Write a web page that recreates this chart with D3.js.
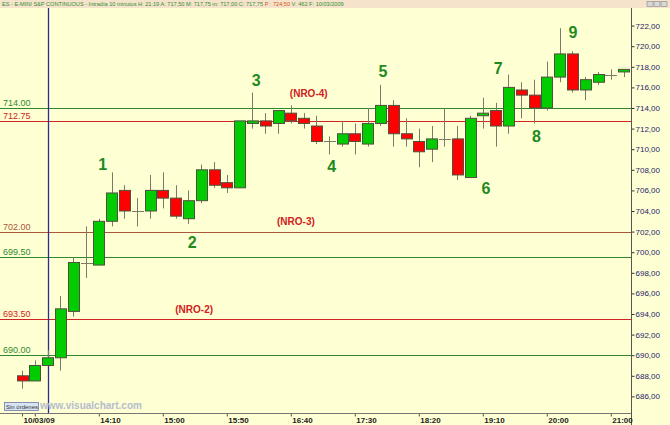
<!DOCTYPE html>
<html>
<head>
<meta charset="utf-8">
<script src="https://cdn.jsdelivr.net/npm/d3@7"></script>
<style>
  body { margin: 0; background: #ffffd6; }
  svg { display: block; font-family: Arial, "Liberation Sans", sans-serif; }
</style>
</head>
<body>
<div id="chart"></div>
<script>
// Chart data (ES e-mini S&P, 10 minute bars, 10/03/2009)
// ================================
var opens  = [688.00, 687.50, 689.00, 689.75, 694.25, 699.00, 698.75, 703.00, 706.00, 704.00,
              704.00, 706.00, 705.25, 703.25, 705.00, 708.00, 706.75, 706.25, 712.50, 712.75,
              712.50, 713.50, 713.00, 712.25, 710.75, 710.50, 711.50, 710.50, 712.50, 714.25,
              711.50, 710.75, 710.00, 711.00, 711.00, 707.25, 713.25, 713.75, 712.25, 715.75,
              715.25, 714.00, 717.00, 719.25, 715.75, 716.50, 717.25, 717.50];
var highs  = [688.50, 689.50, 690.50, 695.75, 699.50, 702.50, 703.25, 707.75, 706.50, 705.25,
              707.50, 707.75, 706.50, 706.00, 708.50, 708.75, 707.50, 712.75, 715.50, 713.50,
              713.75, 714.25, 713.50, 713.25, 711.25, 712.75, 712.50, 714.00, 716.25, 714.75,
              713.00, 712.00, 712.25, 714.00, 712.25, 713.25, 715.00, 714.50, 717.25, 716.50,
              716.75, 718.50, 721.75, 719.50, 717.00, 717.50, 717.75, 717.75];
var lows   = [686.75, 687.50, 689.00, 688.50, 693.75, 697.50, 698.75, 702.50, 703.25, 702.50,
              703.25, 704.25, 703.25, 702.75, 704.75, 706.25, 705.75, 706.25, 712.00, 711.50,
              711.50, 712.50, 712.00, 710.50, 709.50, 710.25, 709.50, 710.25, 712.25, 710.25,
              710.25, 708.25, 708.75, 710.25, 707.00, 707.25, 712.00, 710.25, 711.50, 713.00,
              712.50, 713.75, 716.50, 715.50, 714.75, 716.25, 716.75, 717.00];
var closes = [687.50, 689.00, 689.75, 694.50, 699.00, 699.00, 703.00, 705.75, 704.00, 704.00,
              706.00, 705.25, 703.50, 705.00, 708.00, 706.50, 706.25, 712.75, 712.75, 712.25,
              713.75, 712.75, 712.50, 710.75, 710.75, 711.50, 710.75, 712.50, 714.25, 711.50,
              711.00, 709.75, 711.00, 711.00, 707.50, 713.00, 713.50, 712.25, 716.00, 715.25,
              714.00, 717.00, 719.25, 715.75, 716.75, 717.25, 717.25, 717.75];

// time axis: bar index -> label
var timeTickBars   = [0, 1, 6, 11, 16, 21, 26, 31, 36, 41, 46];
var timeTickLabels = ["10/03/09", "", "14:10", "15:00", "15:50", "16:40", "17:30", "18:20", "19:10", "20:00", "21:00"];

// price axis ticks
var priceTicks = [686, 688, 690, 692, 694, 696, 698, 700, 702, 704, 706, 708, 710, 712, 714, 716, 718, 720, 722];

// horizontal levels
var levelPrices = [714.00, 712.75, 702.00, 699.50, 693.50, 690.00];
var levelKinds  = ["g", "r", "b", "g", "r", "g"];

// wave count labels (bar index, price)
var waveLabels = ["1", "2", "3", "4", "5", "6", "7", "8", "9"];
var waveBars   = [6.3, 13.3, 18.3, 24.2, 28.2, 36.25, 37.2, 40.2, 43.05];
var wavePrices = [708.5, 700.9, 716.7, 708.3, 717.5, 706.2, 717.8, 711.2, 721.3];

// NRO labels
var nroLabels = ["(NRO-4)", "(NRO-3)", "(NRO-2)"];
var nroBars   = [22.4, 21.4, 13.45];
var nroPrices = [715.45, 702.95, 694.4];

var dateBar = 2; // blue session line

// Set up our chart
// ================================
var svgWidth = 670;
var svgHeight = 425;
var plotRight = 631;
var plotTop = 8;
var plotBottom = 413;

var bars = opens.map(function(o, i) {
  return { i: i, o: o, h: highs[i], l: lows[i], c: closes[i] };
});

var svg = d3.select("#chart").append("svg")
  .attr("width", svgWidth)
  .attr("height", svgHeight);

svg.append("rect")
  .attr("width", svgWidth).attr("height", svgHeight)
  .attr("fill", "#ffffd4");

// header strip
svg.append("rect")
  .attr("width", svgWidth).attr("height", plotTop)
  .attr("fill", "#f6e3cc");
var header = svg.append("text")
  .attr("x", 2).attr("y", 6)
  .attr("font-size", "5.6px")
  .attr("fill", "#2f8f2f");
header.append("tspan").text("ES - E-MINI S&P CONTINUOUS - Intradía 10 minutos H: 21:19 A: 717,50 M: 717,75 m: 717,00 C: 717,75 ");
header.append("tspan").attr("fill", "#d05a10").text("P : 724,50 ");
header.append("tspan").text("V: 462 F: 10/03/2009");

// window buttons
[647, 654, 661].forEach(function(bx) {
  svg.append("rect").attr("x", bx).attr("y", 1.5).attr("width", 6).attr("height", 5)
    .attr("fill", "#d8d8d8").attr("stroke", "#888").attr("stroke-width", 0.6);
});

var xScale = d3.scaleLinear()
  .domain([0, 47])
  .range([22, 623.6]);

var yScale = d3.scaleLinear()
  .domain([686, 722])
  .range([396.4, 25.6]);

var levelColor = { g: "#2f8a2f", r: "#d02424", b: "#a8583c" };

// level lines
var chartGroup = svg.append("g");
levelPrices.forEach(function(p, k) {
  chartGroup.append("line")
    .attr("x1", 0).attr("x2", plotRight)
    .attr("y1", Math.round(yScale(p)) + 0.5).attr("y2", Math.round(yScale(p)) + 0.5)
    .attr("stroke", levelColor[levelKinds[k]])
    .attr("stroke-width", 1.2);
  chartGroup.append("text")
    .attr("x", 3).attr("y", Math.round(yScale(p)) - 2)
    .attr("font-size", "9px")
    .attr("fill", levelColor[levelKinds[k]])
    .text(d3.format(".2f")(p));
});

// blue session line
chartGroup.append("line")
  .attr("x1", Math.round(xScale(dateBar)) + 0.5).attr("x2", Math.round(xScale(dateBar)) + 0.5)
  .attr("y1", plotTop).attr("y2", plotBottom)
  .attr("stroke", "#2b2b9a").attr("stroke-width", 1.3);

// candles
var bodyW = 11;
var candles = chartGroup.selectAll(".candle")
  .data(bars)
  .enter()
  .append("g");

candles.append("line")
  .attr("x1", d => Math.round(xScale(d.i)) + 0.5)
  .attr("x2", d => Math.round(xScale(d.i)) + 0.5)
  .attr("y1", d => yScale(d.h))
  .attr("y2", d => yScale(d.l))
  .attr("stroke", "#7a7a66")
  .attr("stroke-width", 1);

candles.filter(d => d.o !== d.c).append("rect")
  .attr("x", d => Math.round(xScale(d.i) - bodyW / 2) + 0.5)
  .attr("y", d => yScale(Math.max(d.o, d.c)))
  .attr("width", bodyW)
  .attr("height", d => Math.abs(yScale(d.o) - yScale(d.c)))
  .attr("fill", d => d.c > d.o ? "#00cc00" : "#ff0000")
  .attr("stroke", "#505040")
  .attr("stroke-width", 1);

candles.filter(d => d.o === d.c).append("line")
  .attr("x1", d => Math.round(xScale(d.i) - bodyW / 2))
  .attr("x2", d => Math.round(xScale(d.i) + bodyW / 2) + 1)
  .attr("y1", d => Math.round(yScale(d.c)) + 0.5)
  .attr("y2", d => Math.round(yScale(d.c)) + 0.5)
  .attr("stroke", "#7a7a66");

// wave labels
waveLabels.forEach(function(t, k) {
  chartGroup.append("text")
    .attr("x", xScale(waveBars[k])).attr("y", yScale(wavePrices[k]))
    .attr("text-anchor", "middle")
    .attr("dominant-baseline", "central")
    .attr("font-size", "16px").attr("font-weight", "bold")
    .attr("fill", "#1f8a1f")
    .text(t);
});

nroLabels.forEach(function(t, k) {
  chartGroup.append("text")
    .attr("x", xScale(nroBars[k])).attr("y", yScale(nroPrices[k]))
    .attr("text-anchor", "middle")
    .attr("dominant-baseline", "central")
    .attr("font-size", "10px").attr("font-weight", "bold")
    .attr("fill", "#d02020")
    .text(t);
});

// price axis (right)
var rightAxis = d3.axisRight(yScale)
  .tickValues(priceTicks)
  .tickSize(3)
  .tickFormat(d => d3.format(".2f")(d).replace(".", ","));
var ra = svg.append("g")
  .attr("transform", `translate(${plotRight + 0.5}, 0)`)
  .call(rightAxis);
ra.select(".domain").remove();
ra.selectAll("line").attr("stroke", "#333");
ra.selectAll("text")
  .attr("x", 4)
  .attr("font-size", "8px")
  .attr("font-family", "Arial, sans-serif")
  .attr("fill", "#1c1c6a");
svg.append("line")
  .attr("x1", plotRight + 0.5).attr("x2", plotRight + 0.5)
  .attr("y1", plotTop).attr("y2", svgHeight)
  .attr("stroke", "#555").attr("stroke-width", 1);

// time axis (bottom)
var bottomAxis = d3.axisBottom(xScale)
  .tickValues(timeTickBars)
  .tickSize(3)
  .tickFormat((d, k) => timeTickLabels[k]);
var ba = svg.append("g")
  .attr("transform", `translate(0, ${plotBottom + 0.5})`)
  .call(bottomAxis);
ba.select(".domain").remove();
ba.selectAll("line").attr("stroke", "#555");
ba.selectAll("text")
  .attr("text-anchor", "start")
  .attr("x", 1)
  .attr("y", 4)
  .attr("font-size", "8px")
  .attr("font-weight", "bold")
  .attr("font-family", "Arial, sans-serif")
  .attr("fill", "#222");
svg.append("line")
  .attr("x1", 0).attr("x2", plotRight)
  .attr("y1", plotBottom + 0.5).attr("y2", plotBottom + 0.5)
  .attr("stroke", "#777");

// footer
svg.append("rect")
  .attr("x", 4.5).attr("y", 402.5).attr("width", 34).attr("height", 8)
  .attr("fill", "#d8e4f4").attr("stroke", "#6a7aa8").attr("stroke-width", 0.8);
svg.append("text")
  .attr("x", 6).attr("y", 409)
  .attr("font-size", "6px").attr("fill", "#333")
  .text("Sin órdenes");
svg.append("text")
  .attr("x", 40).attr("y", 409)
  .attr("font-size", "10px").attr("font-weight", "bold")
  .attr("fill", "#b4bccc")
  .text("www.visualchart.com");
</script>
</body>
</html>
